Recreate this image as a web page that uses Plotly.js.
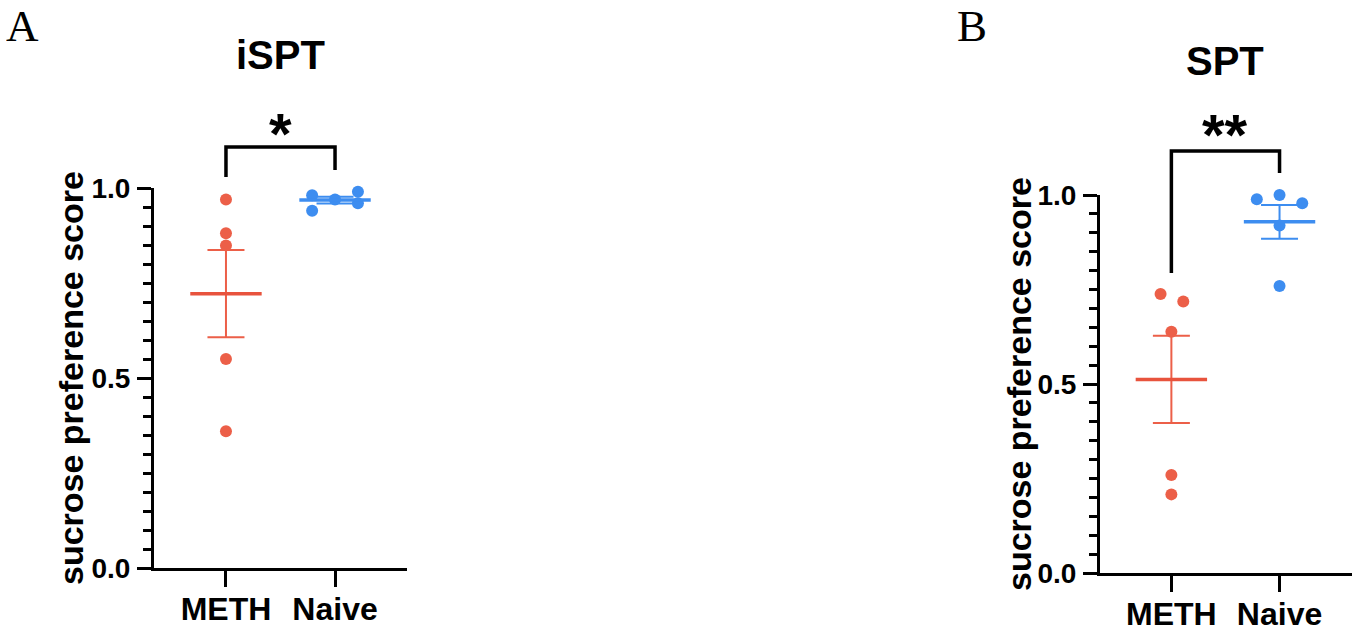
<!DOCTYPE html>
<html>
<head>
<meta charset="utf-8">
<script src="https://cdn.plot.ly/plotly-3.0.1.min.js"></script>
<style>
  html, body { margin: 0; padding: 0; background: #ffffff; }
  #chart { width: 1358px; height: 634px; }
</style>
</head>
<body>
<div id="chart"></div>
<script>
// ---- data ----
const groups = ['METH', 'Naive'];
const panelTitles = ['iSPT', 'SPT'];
const panelLetters = ['A', 'B'];
const sigLabels = ['*', '**'];
const yTickVals = [0, 0.5, 1.0];
const yTickText = ['0.0', '0.5', '1.0'];
const yAxisLabel = 'sucrose preference score';

const isptMETH  = [0.970, 0.881, 0.849, 0.550, 0.360];
const isptNaive = [0.981, 0.940, 0.970, 0.990, 0.960];
const sptMETH   = [0.738, 0.718, 0.638, 0.259, 0.208];
const sptNaive  = [0.989, 1.000, 0.978, 0.919, 0.759];

// ---- styling / placement (not data) ----
const RED = '#EC5F48';
const RED_DARK = '#E8533D';
const BLUE = '#3D8DF0';
const FONT = 'Liberation Sans, Arial, Helvetica, sans-serif';
const SERIF = 'Liberation Serif, Times New Roman, serif';
const W = 1358, H = 634;

// horizontal scatter offsets of the points (GraphPad-style spread)
const spread = {
  isptMETH:  [0, 0, 0, 0, 0],
  isptNaive: [-0.21, -0.21, 0, 0.21, 0.21],
  sptMETH:   [-0.10, 0.11, 0, 0, 0],
  sptNaive:  [-0.21, 0, 0.21, 0, 0]
};

function mean(a) { return a.reduce((s, v) => s + v, 0) / a.length; }
function sem(a) {
  const m = mean(a);
  const v = a.reduce((s, x) => s + (x - m) * (x - m), 0) / (a.length - 1);
  return Math.sqrt(v) / Math.sqrt(a.length);
}

function groupTraces(vals, offs, gi, color, lineColor, xa, ya) {
  const pts = {
    type: 'scatter', mode: 'markers', xaxis: xa, yaxis: ya,
    x: vals.map((v, i) => gi + offs[i]), y: vals,
    marker: { color: color, size: 12 },
    cliponaxis: false, showlegend: false, hoverinfo: 'y'
  };
  const m = mean(vals), e = sem(vals);
  const bar = {
    type: 'scatter', mode: 'markers', xaxis: xa, yaxis: ya,
    x: [gi], y: [m],
    marker: { symbol: 'line-ew', size: 51, color: lineColor,
              line: { color: lineColor, width: 3.5 } },
    error_y: { type: 'data', array: [e], visible: true,
               color: color, thickness: 2, width: 18.5 },
    cliponaxis: false, showlegend: false, hoverinfo: 'y'
  };
  return [pts, bar];
}

const data = [].concat(
  groupTraces(isptMETH,  spread.isptMETH,  0, RED,  RED_DARK, 'x',  'y'),
  groupTraces(isptNaive, spread.isptNaive, 1, BLUE, BLUE,     'x',  'y'),
  groupTraces(sptMETH,   spread.sptMETH,   0, RED,  RED_DARK, 'x2', 'y2'),
  groupTraces(sptNaive,  spread.sptNaive,  1, BLUE, BLUE,     'x2', 'y2')
);

function px(x) { return x / W; }
function py(y) { return (H - y) / H; }

function xAxis(domain, range) {
  return {
    domain: domain, range: range,
    tickvals: [0, 1], ticktext: groups,
    ticks: 'outside', ticklen: 16, tickwidth: 3, tickcolor: '#000',
    showline: true, linewidth: 3, linecolor: '#000',
    showgrid: false, zeroline: false, fixedrange: true,
    ticklabelstandoff: -5,
    tickfont: { family: FONT, size: 32, weight: 'bold', color: '#000' }
  };
}
function yAxis(domain, anchor) {
  return {
    domain: domain, range: [0, 1], anchor: anchor,
    tickvals: yTickVals, ticktext: yTickText,
    ticks: 'outside', ticklen: 14, tickwidth: 3, tickcolor: '#000',
    minor: { dtick: 0.05, tick0: 0, ticks: 'outside', ticklen: 8,
             tickwidth: 3, tickcolor: '#000', showgrid: false },
    showline: true, linewidth: 3, linecolor: '#000',
    showgrid: false, zeroline: false, fixedrange: true,
    ticklabelstandoff: 1,
    tickfont: { family: FONT, size: 28, weight: 'bold', color: '#000' }
  };
}

function ann(o) {
  return Object.assign({ showarrow: false, xanchor: 'center', yanchor: 'middle' }, o);
}

const annotations = [
  // panel letters
  ann({ text: panelLetters[0], xref: 'paper', yref: 'paper', x: px(22), y: py(26),
        height: 44, valign: 'middle',
        font: { family: SERIF, size: 45, color: '#000' } }),
  ann({ text: panelLetters[1], xref: 'paper', yref: 'paper', x: px(972), y: py(26),
        height: 44, valign: 'middle',
        font: { family: SERIF, size: 45, color: '#000' } }),
  // titles
  ann({ text: panelTitles[0], xref: 'x', yref: 'paper', x: 0.5, y: py(55),
        font: { family: FONT, size: 40, weight: 'bold', color: '#000' } }),
  ann({ text: panelTitles[1], xref: 'x2', yref: 'paper', x: 0.5, y: py(61),
        font: { family: FONT, size: 40, weight: 'bold', color: '#000' } }),
  // significance stars
  ann({ text: sigLabels[0], xref: 'x', yref: 'paper', x: 0.5, y: py(133),
        font: { family: FONT, size: 58, weight: 'bold', color: '#000' } }),
  ann({ text: sigLabels[1], xref: 'x2', yref: 'paper', x: 0.5, y: py(134),
        font: { family: FONT, size: 58, weight: 'bold', color: '#000' } }),
  // y axis titles
  ann({ text: yAxisLabel, xref: 'paper', yref: 'paper', x: px(71), y: py(378),
        textangle: -90,
        font: { family: FONT, size: 34, weight: 'bold', color: '#000' } }),
  ann({ text: yAxisLabel, xref: 'paper', yref: 'paper', x: px(1019), y: py(384),
        textangle: -90,
        font: { family: FONT, size: 34, weight: 'bold', color: '#000' } })
];

function bracket(xref, yTop, yLeft, yRight) {
  return {
    type: 'path', xref: xref, yref: 'paper',
    path: 'M 0,' + yLeft + ' L 0,' + yTop + ' L 1,' + yTop + ' L 1,' + yRight,
    line: { color: '#000', width: 3.5 }
  };
}

const layout = {
  width: W, height: H,
  margin: { l: 0, r: 0, t: 0, b: 0 },
  paper_bgcolor: '#fff', plot_bgcolor: '#fff',
  showlegend: false,
  xaxis:  Object.assign(xAxis([px(154), px(407)], [-0.66, 1.66]), { anchor: 'y' }),
  yaxis:  yAxis([py(568), py(188)], 'x'),
  xaxis2: Object.assign(xAxis([px(1100), px(1352)], [-0.66, 1.67]), { anchor: 'y2' }),
  yaxis2: yAxis([py(573), py(195)], 'x2'),
  annotations: annotations,
  shapes: [
    bracket('x',  py(147), py(177), py(170)),
    bracket('x2', py(151), py(273), py(173))
  ]
};

Plotly.newPlot('chart', data, layout, { displayModeBar: false, staticPlot: true });
</script>
</body>
</html>
